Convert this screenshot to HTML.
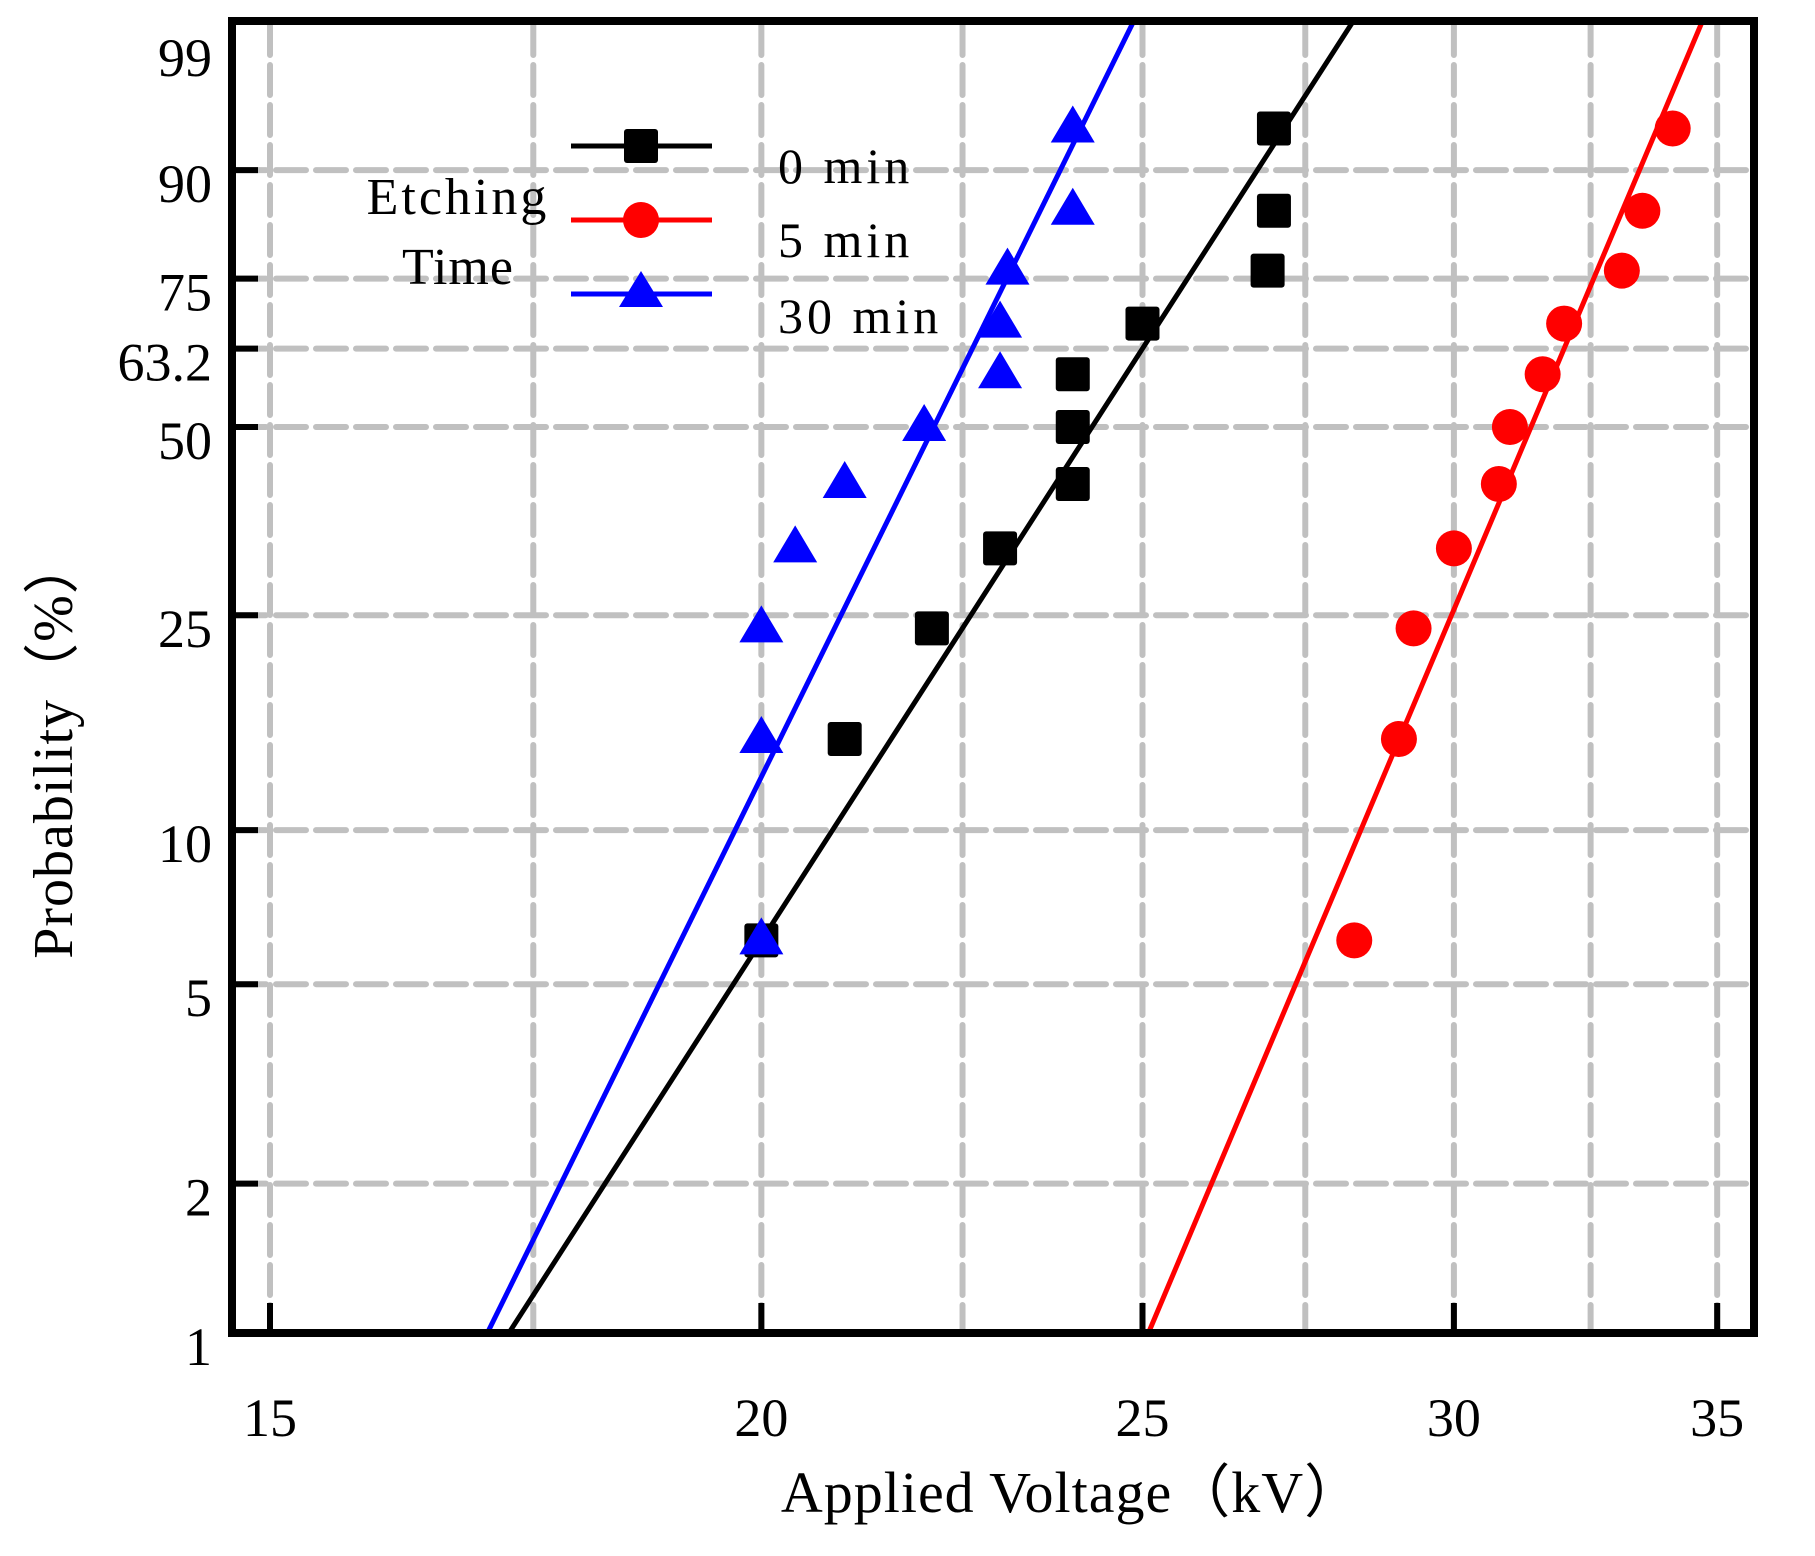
<!DOCTYPE html>
<html><head><meta charset="utf-8"><style>
html,body{margin:0;padding:0;background:#fff;}
svg{display:block;font-family:"Liberation Serif",serif;}
</style></head><body>
<svg id="chart" width="1815" height="1556" viewBox="0 0 1815 1556" xmlns="http://www.w3.org/2000/svg">
<defs><clipPath id="plotclip"><rect x="232" y="21" width="1522" height="1312"/></clipPath></defs>
<g id="grid"></g>
<g id="fits" clip-path="url(#plotclip)"></g>
<g id="marks"></g>
<rect x="232" y="21" width="1522" height="1312" fill="none" stroke="#000" stroke-width="8"/>
<g id="ticks"></g>
<text x="1072" y="1512" font-size="58" letter-spacing="1" text-anchor="middle">Applied Voltage（kV）</text>
<text transform="translate(72,748) rotate(-90)" font-size="56" letter-spacing="1" text-anchor="middle">Probability（%）</text>
<g>
<text x="458" y="214" font-size="52" letter-spacing="3" text-anchor="middle">Etching</text>
<text x="458" y="284" font-size="52" letter-spacing="1" text-anchor="middle">Time</text>
<g>
<line x1="571" y1="146" x2="712" y2="146" stroke="#000" stroke-width="5"/>
<rect x="624" y="129" width="34" height="34" rx="3" fill="#000"/>
<text x="778" y="183" font-size="50" letter-spacing="4">0 min</text></g>
<g>
<line x1="571" y1="220" x2="712" y2="220" stroke="#f00" stroke-width="5"/>
<circle cx="641" cy="220" r="18" fill="#f00"/>
<text x="778" y="257" font-size="50" letter-spacing="4">5 min</text></g>
<g>
<line x1="571" y1="294" x2="712" y2="294" stroke="#00f" stroke-width="5"/>
<polygon points="641,271 663,307 619,307" fill="#00f"/>
<text x="778" y="333" font-size="50" letter-spacing="4">30 min</text></g>
</g>
</svg>
<script>
const xTicks=[15,20,25,30,35];
const xGrid=[15,17.5,20,22.5,25,27.5,30,32.5,35];
const yTicks=[1,2,5,10,25,50,63.2,75,90,99];
const yGrid=[2,5,10,25,50,63.2,75,90];
const probs=[6.1,14.9,23.7,32.5,41.2,50,58.8,67.5,76.3,85.1,93.9];
const v0=[20,21,22.1,23,24,24,24,25,26.9,27,27];
const v5=[28.3,29.05,29.3,30,30.8,31,31.6,32,33.1,33.5,34.1];
const v30=[20,20,20,20.4,21,22,23,23,23.1,24,24];
const etaArr=[25.0,32.0,22.63];
const betaArr=[12.4,18.9,16.2];
const NS='http://www.w3.org/2000/svg';
function X(v){return 270+1708*(Math.log(v)-Math.log(15));}
function W(p){return Math.log(-Math.log(1-p/100));}
function Y(p){return 1333-214*(W(p)-W(1));}
function mk(tag,attrs,parent){const e=document.createElementNS(NS,tag);for(const k in attrs)e.setAttribute(k,attrs[k]);parent.appendChild(e);return e;}
const grid=document.getElementById('grid'),ticks=document.getElementById('ticks'),fits=document.getElementById('fits'),marks=document.getElementById('marks');
xGrid.forEach(v=>{const l=mk('line',{x1:X(v),x2:X(v),y1:25,y2:1329,stroke:'#c0c0c0','stroke-width':6,'stroke-dasharray':'30 10','stroke-linecap':'round'},grid);

});
yGrid.forEach(p=>{const l=mk('line',{x1:236,x2:1750,y1:Y(p),y2:Y(p),stroke:'#c0c0c0','stroke-width':6,'stroke-dasharray':'30 10','stroke-linecap':'round'},grid);

});
xTicks.forEach(v=>{mk('line',{x1:X(v),x2:X(v),y1:1333,y2:1303,stroke:'#000','stroke-width':6},ticks);
const t=mk('text',{x:X(v),y:1436,'font-size':54,'text-anchor':'middle'},ticks);t.textContent=v;

});
yTicks.forEach(p=>{if(p!==99)mk('line',{x1:232,x2:258,y1:Y(p),y2:Y(p),stroke:'#000','stroke-width':6},ticks);
const ty=(p===99)?76:Y(p)+32;
const t=mk('text',{x:212,y:ty,'font-size':54,'text-anchor':'end'},ticks);t.textContent=p;

});
const colors=['#000','#f00','#00f'];
etaArr.forEach((eta,i)=>{const b=betaArr[i];
const vA=eta*Math.exp(W(0.5)/b),vB=eta*Math.exp(W(99.9)/b);
const l=mk('line',{x1:X(vA),y1:Y(0.5),x2:X(vB),y2:Y(99.9),stroke:colors[i],'stroke-width':5},fits);

});
v0.forEach((v,i)=>{const x=X(v),y=Y(probs[i]);
const e=mk('rect',{x:x-17,y:y-17,width:34,height:34,rx:3,fill:'#000'},marks);

});
v5.forEach((v,i)=>{const e=mk('circle',{cx:X(v),cy:Y(probs[i]),r:18,fill:'#f00'},marks);

});
v30.forEach((v,i)=>{const x=X(v),y=Y(probs[i]);
const e=mk('polygon',{points:`${x},${y-23} ${x+22},${y+14} ${x-22},${y+14}`,fill:'#00f'},marks);

});
</script>
</body></html>
